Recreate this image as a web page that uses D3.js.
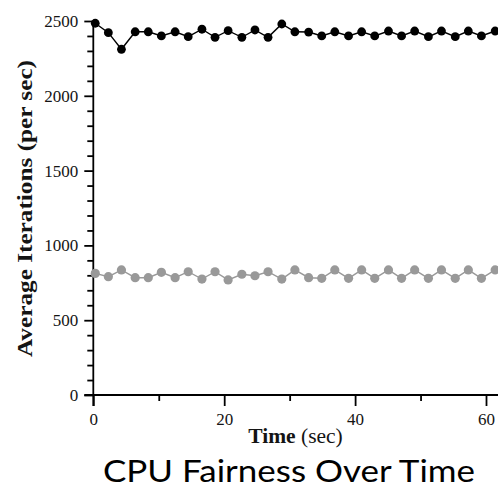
<!DOCTYPE html>
<html>
<head>
<meta charset="utf-8">
<script src="https://cdn.jsdelivr.net/npm/d3@7"></script>
<style>
  html, body { margin: 0; padding: 0; background: #fff; }
  svg { display: block; }
</style>
</head>
<body>
<svg id="chart" width="498" height="491"></svg>
<script>
// Sample times (seconds) shared by both processes
const times = [0.3, 2.3, 4.3, 6.4, 8.4, 10.4, 12.5, 14.5, 16.6, 18.6, 20.6, 22.7, 24.7, 26.7, 28.8,
  30.8, 32.9, 34.9, 36.9, 39.0, 41.0, 43.0, 45.1, 47.1, 49.1, 51.2, 53.2, 55.3, 57.3, 59.3, 61.4];

// Average iterations per second, high-share process
const highShare = [2485, 2422, 2311, 2428, 2428, 2400, 2428, 2395, 2445, 2391, 2435, 2391, 2440, 2391, 2480,
  2428, 2426, 2400, 2428, 2400, 2428, 2400, 2433, 2400, 2433, 2395, 2433, 2395, 2433, 2400, 2433];

// Average iterations per second, low-share process
const lowShare = [813, 791, 836, 784, 784, 820, 784, 824, 775, 824, 769, 807, 797, 824, 775,
  836, 784, 780, 836, 780, 836, 780, 836, 780, 836, 780, 836, 780, 836, 780, 836];

const xMajorTicks = [0, 20, 40, 60];
const xMinorTicks = [10, 30, 50];
const yMajorTicks = [0, 500, 1000, 1500, 2000, 2500];
const yMinorTicks = d3.range(100, 2500, 100).filter(v => v % 500 !== 0);

const svg = d3.select("#chart");
const serif = "'Liberation Serif', 'Times New Roman', serif";

const x = d3.scaleLinear().domain([0, 60]).range([93.3, 486]);
const y = d3.scaleLinear().domain([0, 2500]).range([395, 21]);

// Axes: minor ticks first, then major ticks with labels
const axisG = svg.append("g");

axisG.append("g")
  .attr("transform", `translate(0,${y(0)})`)
  .call(d3.axisBottom(x).tickValues(xMinorTicks).tickSize(6).tickSizeOuter(0).tickFormat(""))
  .call(g => g.select(".domain").remove());

axisG.append("g")
  .attr("transform", `translate(${x(0)},0)`)
  .call(d3.axisLeft(y).tickValues(yMinorTicks).tickSize(6).tickSizeOuter(0).tickFormat(""))
  .call(g => g.select(".domain").remove());

const xAxis = axisG.append("g")
  .attr("transform", `translate(0,${y(0)})`)
  .call(d3.axisBottom(x).tickValues(xMajorTicks).tickSize(11).tickSizeOuter(0).tickPadding(7).tickFormat(d3.format("d")));
xAxis.select(".domain").attr("d", `M${x(0) - 9},0H498`);

const yAxis = axisG.append("g")
  .attr("transform", `translate(${x(0)},0)`)
  .call(d3.axisLeft(y).tickValues(yMajorTicks).tickSize(9).tickSizeOuter(0).tickPadding(6).tickFormat(d3.format("d")));
yAxis.select(".domain").attr("d", `M0,${y(2500)}V${y(0) + 11}`);

axisG.selectAll("line, path").attr("stroke", "#000").attr("stroke-width", 1.8);
axisG.selectAll("text")
  .attr("font-family", serif)
  .attr("font-size", 17)
  .attr("fill", "#141414");

// Series: connecting line plus round markers
const line = d3.line().x((d, i) => x(times[i])).y(d => y(d));

const series = [
  { values: lowShare, color: "#999999", r: 4.6 },
  { values: highShare, color: "#000000", r: 4.4 }
];

series.forEach(s => {
  const g = svg.append("g");
  g.append("path")
    .datum(s.values)
    .attr("d", line)
    .attr("fill", "none")
    .attr("stroke", s.color)
    .attr("stroke-width", 1.4);
  g.selectAll("circle")
    .data(s.values)
    .join("circle")
    .attr("cx", (d, i) => x(times[i]))
    .attr("cy", d => y(d))
    .attr("r", s.r)
    .attr("fill", s.color);
});

// Axis titles
svg.append("text")
  .attr("transform", "translate(32,208.5) rotate(-90)")
  .attr("text-anchor", "middle")
  .attr("font-family", serif)
  .attr("font-weight", "bold")
  .attr("font-size", 22)
  .attr("fill", "#141414")
  .attr("textLength", 297)
  .attr("lengthAdjust", "spacingAndGlyphs")
  .text("Average Iterations (per sec)");

const xt = svg.append("text")
  .attr("x", 295.5)
  .attr("y", 443)
  .attr("text-anchor", "middle")
  .attr("font-family", serif)
  .attr("font-size", 21.5)
  .attr("fill", "#141414");
xt.append("tspan").attr("font-weight", "bold").text("Time");
xt.append("tspan").text(" (sec)");

// Caption
svg.append("text")
  .attr("x", 289)
  .attr("y", 482)
  .attr("text-anchor", "middle")
  .attr("font-family", "Lato, 'Open Sans', sans-serif")
  .attr("font-size", 31)
  .attr("fill", "#000")
  .attr("textLength", 372)
  .attr("lengthAdjust", "spacingAndGlyphs")
  .text("CPU Fairness Over Time");
</script>
</body>
</html>
